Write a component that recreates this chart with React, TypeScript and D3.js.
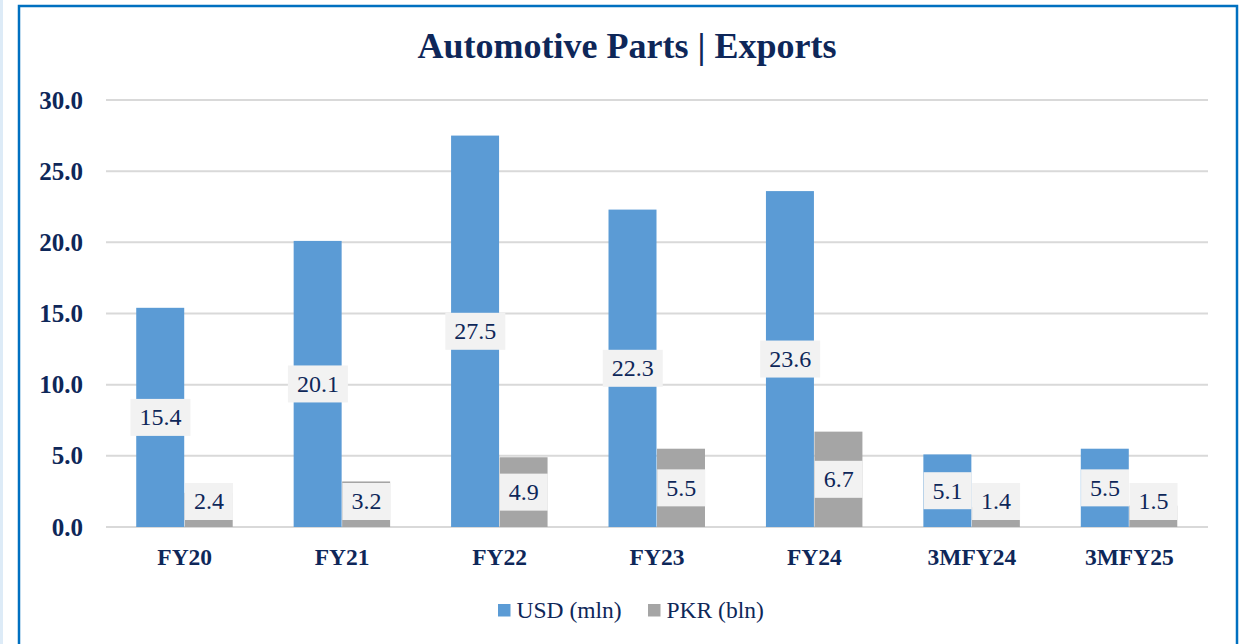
import React, { useEffect } from "react";
import * as d3 from "d3";

const categories = ["FY20", "FY21", "FY22", "FY23", "FY24", "3MFY24", "3MFY25"];
const usdValues = [15.4, 20.1, 27.5, 22.3, 23.6, 5.1, 5.5];
const pkrValues = [2.4, 3.2, 4.9, 5.5, 6.7, 1.4, 1.5];
const seriesNames = ["USD (mln)", "PKR (bln)"];
const yTicks = [0, 5, 10, 15, 20, 25, 30];
const title = "Automotive Parts | Exports";

const W = 1242;
const H = 644;
const NAVY = "#0E2759";
const COLORS = ["#5B9BD5", "#A5A5A5"];
const FONT = "'Liberation Serif', 'Times New Roman', serif";

export default function App() {
  useEffect(() => {
    document.body.style.margin = "0";
  }, []);

  const x = d3
    .scaleBand<string>()
    .domain(categories)
    .range([106, 1208])
    .paddingInner(0.384)
    .paddingOuter(0.192);
  const xs = d3.scaleBand<number>().domain([0, 1]).range([0, x.bandwidth()]);
  const y = d3.scaleLinear().domain([0, 30]).range([527, 100]);

  const series = [usdValues, pkrValues];
  const boxH = 37;
  const pad = 9;

  const measure = (s: string) => s.length * 12 - 6; // approx width at 24px
  const labels: { cx: number; cy: number; text: string; w: number }[] = [];
  series.forEach((vals, si) => {
    vals.forEach((v, i) => {
      const bx = (x(categories[i]) as number) + (xs(si) as number);
      const bw = xs.bandwidth();
      const mid = (y(v) + y(0)) / 2;
      const cy = Math.min(mid, y(0) - 7 - boxH / 2);
      const text = v.toFixed(1);
      const tw = measure(text);
      labels.push({ cx: bx + bw / 2, cy, text, w: Math.max(tw + pad * 2, bw - 1) });
    });
  });

  return (
    <svg width={W} height={H} style={{ display: "block", background: "#fff" }}>
      <rect x={0} y={0} width={3} height={H} fill="#DDEBF7" />
      <rect x={19} y={6} width={1218} height={H} fill="#fff" stroke="#0070C0" strokeWidth={2.5} />
      <text
        x={627}
        y={58}
        textAnchor="middle"
        fontFamily={FONT}
        fontWeight="bold"
        fontSize={36}
        fill={NAVY}
      >
        {title}
      </text>
      {yTicks.map((t) => (
        <g key={t}>
          <line x1={106} x2={1208} y1={y(t)} y2={y(t)} stroke="#D9D9D9" strokeWidth={2} />
          <text
            x={83}
            y={y(t)}
            dy="0.34em"
            textAnchor="end"
            fontFamily={FONT}
            fontWeight="bold"
            fontSize={25}
            fill={NAVY}
          >
            {t.toFixed(1)}
          </text>
        </g>
      ))}
      {series.map((vals, si) =>
        vals.map((v, i) => (
          <rect
            key={`${si}-${i}`}
            x={(x(categories[i]) as number) + (xs(si) as number)}
            y={y(v)}
            width={xs.bandwidth() - 0.5}
            height={y(0) - y(v)}
            fill={COLORS[si]}
          />
        ))
      )}
      {labels.map((l, i) => (
        <g key={i}>
          <rect x={l.cx - l.w / 2} y={l.cy - boxH / 2} width={l.w} height={boxH} fill="#F2F2F2" />
          <text
            x={l.cx}
            y={l.cy}
            dy="0.33em"
            textAnchor="middle"
            fontFamily={FONT}
            fontSize={24}
            fill={NAVY}
          >
            {l.text}
          </text>
        </g>
      ))}
      {categories.map((c) => (
        <text
          key={c}
          x={(x(c) as number) + x.bandwidth() / 2}
          y={565}
          textAnchor="middle"
          fontFamily={FONT}
          fontWeight="bold"
          fontSize={23.5}
          fill={NAVY}
        >
          {c}
        </text>
      ))}
      {seriesNames.map((s, i) => {
        const lx = [498, 648][i];
        return (
          <g key={s}>
            <rect x={lx} y={604} width={12.5} height={12.5} fill={COLORS[i]} />
            <text x={lx + 18.5} y={617.5} fontFamily={FONT} fontSize={23.5} fill={NAVY}>
              {s}
            </text>
          </g>
        );
      })}
    </svg>
  );
}
